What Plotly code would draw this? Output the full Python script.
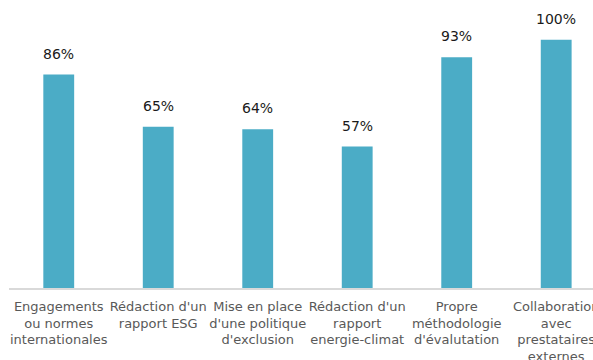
import plotly.graph_objects as go

categories = [
    "Engagements<br>ou normes<br>internationales",
    "Rédaction d'un<br>rapport ESG",
    "Mise en place<br>d'une politique<br>d'exclusion",
    "Rédaction d'un<br>rapport<br>energie-climat",
    "Propre<br>méthodologie<br>d'évalutation",
    "Collaboration<br>avec<br>prestataires<br>externes",
]
values = [0.86, 0.65, 0.64, 0.57, 0.93, 1.00]
value_labels = ["86%", "65%", "64%", "57%", "93%", "100%"]

FONT = "Verdana, DejaVu Sans, sans-serif"

fig = go.Figure()
fig.add_trace(go.Bar(
    x=list(range(len(categories))),
    y=values,
    marker=dict(color="#4BACC6", line=dict(width=0)),
    hoverinfo="skip",
))

for i, (v, lab) in enumerate(zip(values, value_labels)):
    fig.add_annotation(
        x=i, y=v, text=lab, showarrow=False,
        yanchor="bottom", yshift=11,
        font=dict(family=FONT, size=14, color="#1a1a1a"),
    )

fig.update_layout(
    width=593, height=360,
    margin=dict(l=9, r=0, t=15, b=72, autoexpand=False),
    paper_bgcolor="white", plot_bgcolor="white",
    showlegend=False,
    bargap=0.69,
    font=dict(family=FONT, size=13, color="#595959"),
)
fig.update_xaxes(
    tickmode="array",
    tickvals=list(range(len(categories))),
    ticktext=categories,
    range=[-0.5, 5.37],
    automargin=False,
    showgrid=False, zeroline=False,
    showline=True, linecolor="#D9D9D9", linewidth=2,
    ticks="",
    tickangle=0,
    ticklabelstandoff=5,
    ticklabeloverflow="allow",
    tickfont=dict(family=FONT, size=13, color="#595959"),
)
fig.update_yaxes(
    range=[0, 1.1],
    visible=False,
    automargin=False,
    showgrid=False, zeroline=False,
)

fig.write_html("out.html")
